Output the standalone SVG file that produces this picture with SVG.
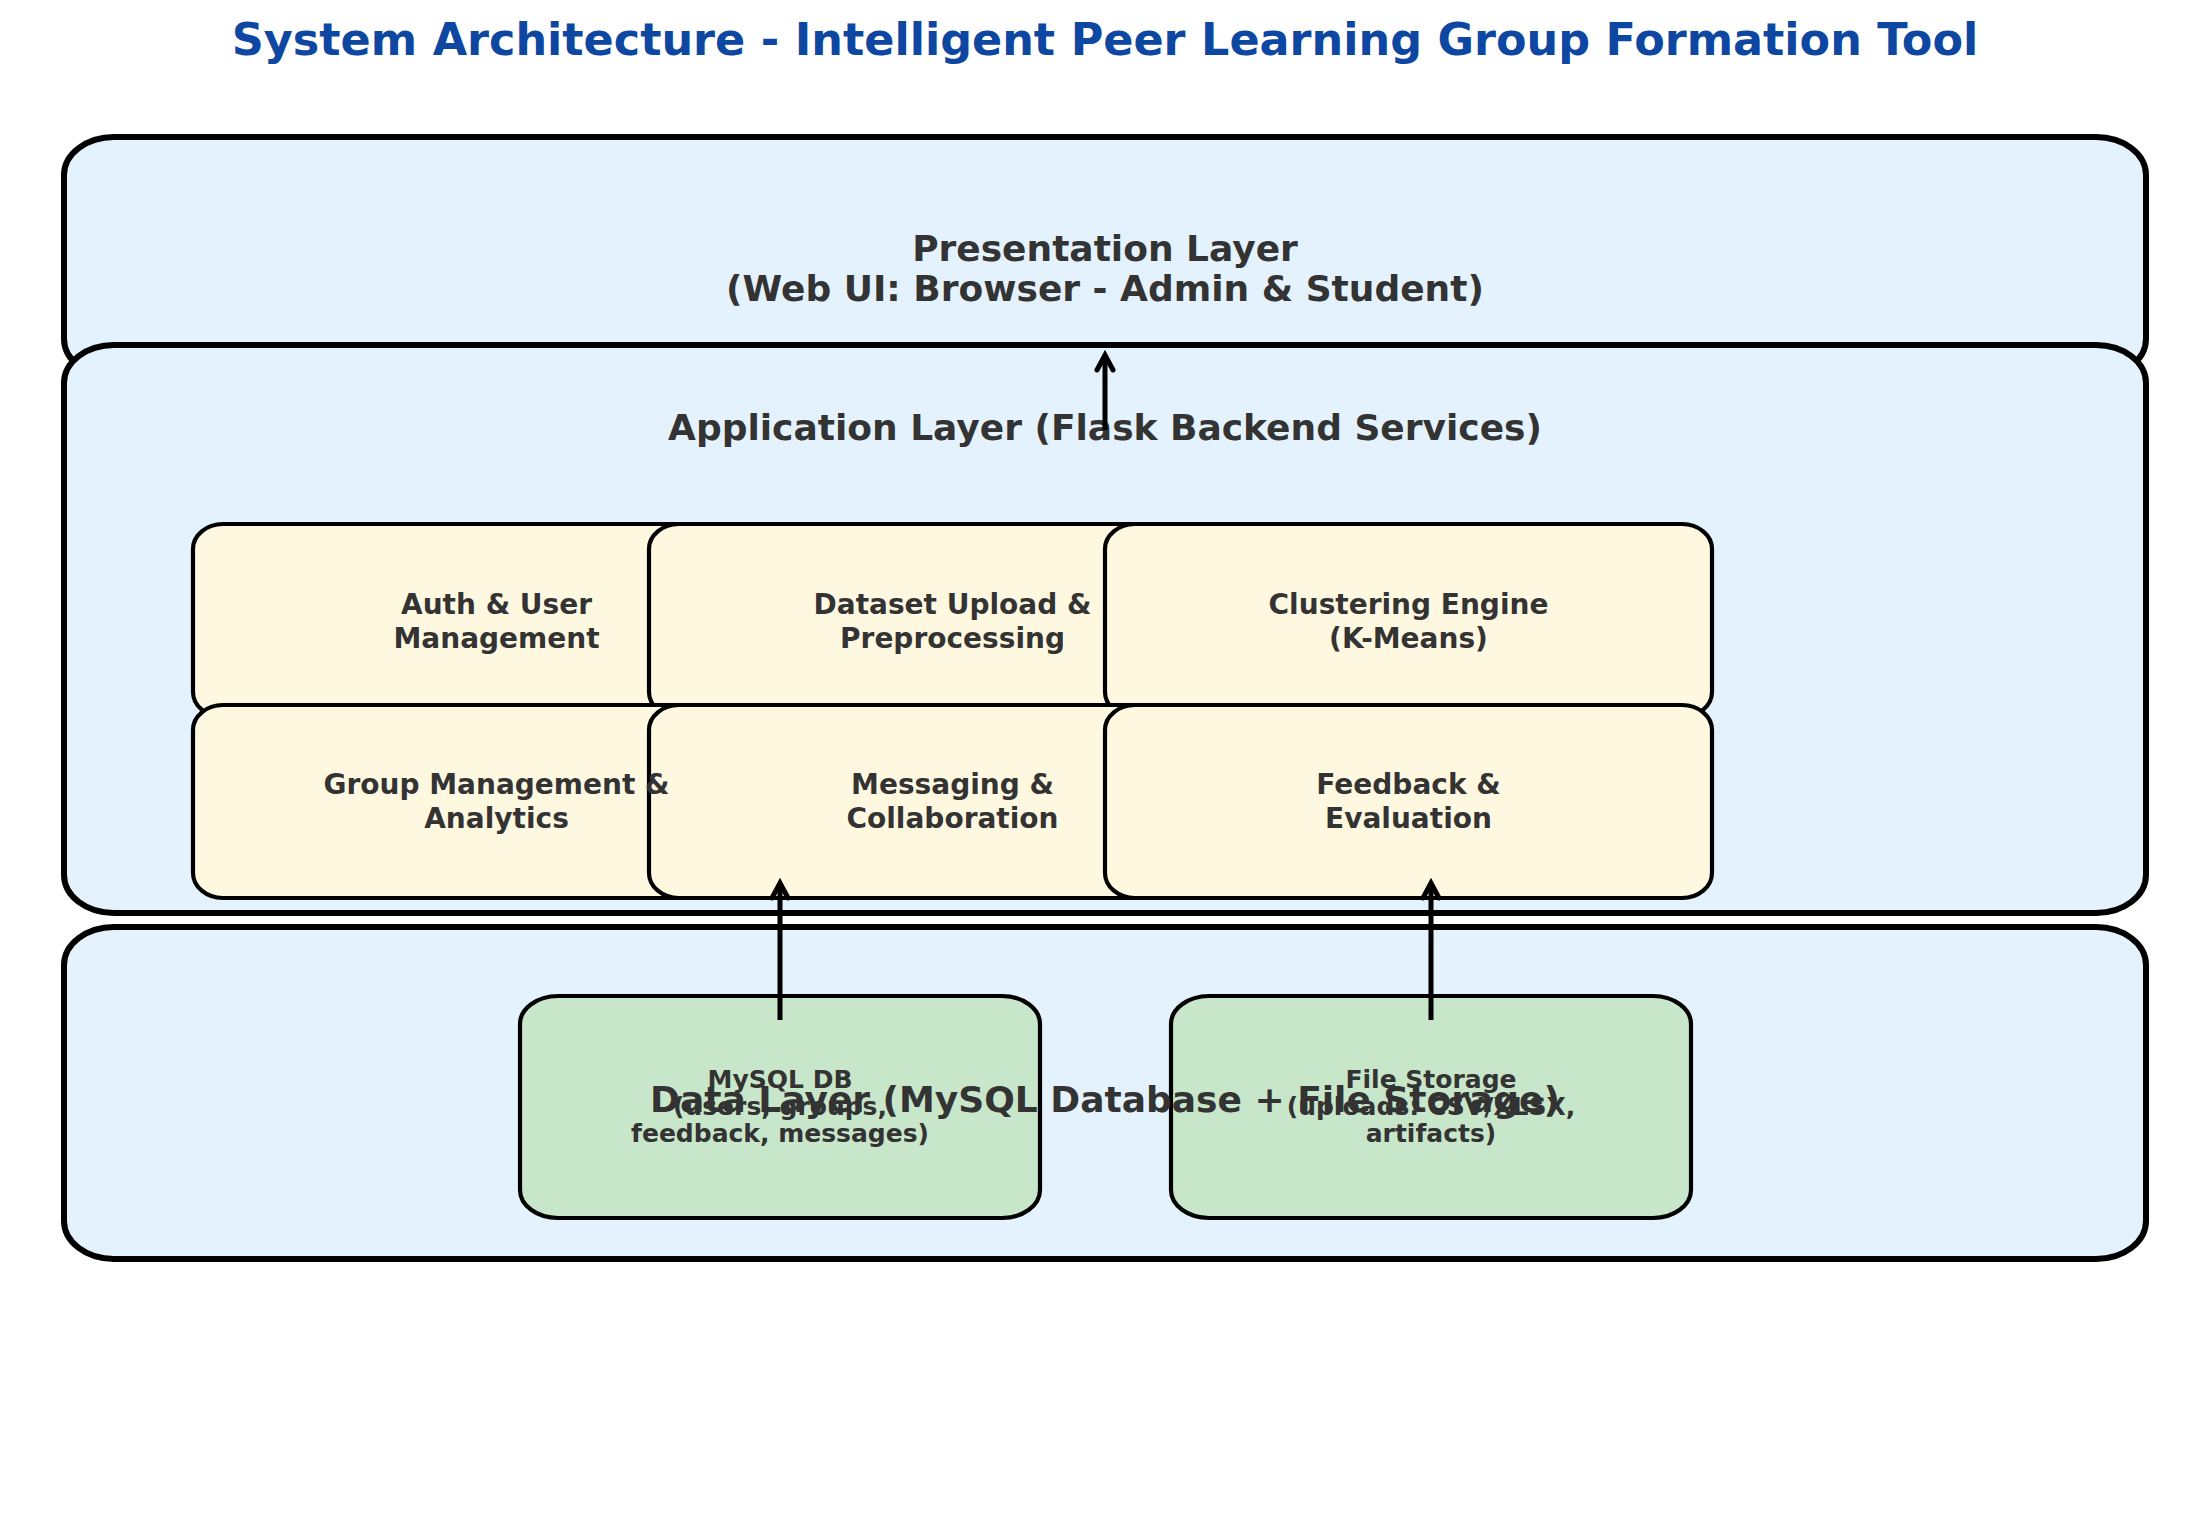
<svg xmlns="http://www.w3.org/2000/svg" width="2210" height="1515" viewBox="0 0 2210 1515">
  <defs>
    <style>
      .layer { fill: #E3F2FD; stroke: #000000; stroke-width: 6; }
      .comp { fill: #FFF8E1; stroke: #000000; stroke-width: 4.2; }
      .store { fill: #C8E6C9; stroke: #000000; stroke-width: 4.2; }
      .t { font-family: "DejaVu Sans", "Liberation Sans", sans-serif; font-weight: bold; fill: #333333; text-anchor: middle; }
      .lt { font-size: 36px; }
      .ct { font-size: 28px; }
      .st { font-size: 25px; }
      .title { font-family: "DejaVu Sans", "Liberation Sans", sans-serif; font-weight: bold; font-size: 44.5px; fill: #0D47A1; text-anchor: middle; }
      .conn { stroke: #000000; stroke-width: 5; fill: none; stroke-linecap: butt; }
      .head { stroke: #000000; stroke-width: 5; fill: none; stroke-linejoin: miter; stroke-linecap: round; }
    </style>
  </defs>
  <rect x="0" y="0" width="2210" height="1515" fill="#FFFFFF"/>
  <text class="title" x="1105" y="55">System Architecture - Intelligent Peer Learning Group Formation Tool</text>

  <g id="presentation-layer">
    <rect class="layer" x="64" y="137" width="2082" height="240" rx="50" ry="38"/>
    <text class="t lt" x="1105" y="261">Presentation Layer</text>
    <text class="t lt" x="1105" y="301">(Web UI: Browser - Admin &amp; Student)</text>
  </g>

  <g id="application-layer">
    <rect class="layer" x="64" y="345" width="2082" height="568" rx="50" ry="38"/>
    <text class="t lt" x="1105" y="440">Application Layer (Flask Backend Services)</text>
  </g>

  <g id="auth">
    <rect class="comp" x="193" y="524" width="607" height="193" rx="30" ry="25"/>
  </g>
  <g id="dataset">
    <rect class="comp" x="649" y="524" width="607" height="193" rx="30" ry="25"/>
  </g>
  <g id="clustering">
    <rect class="comp" x="1105" y="524" width="607" height="193" rx="30" ry="25"/>
  </g>
  <g id="group-mgmt">
    <rect class="comp" x="193" y="705" width="607" height="193" rx="30" ry="25"/>
  </g>
  <g id="messaging">
    <rect class="comp" x="649" y="705" width="607" height="193" rx="30" ry="25"/>
  </g>
  <g id="feedback">
    <rect class="comp" x="1105" y="705" width="607" height="193" rx="30" ry="25"/>
  </g>
  <g id="component-labels">
    <text class="t ct" x="496.5" y="614">Auth &amp; User</text>
    <text class="t ct" x="496.5" y="648">Management</text>
    <text class="t ct" x="952.5" y="614">Dataset Upload &amp;</text>
    <text class="t ct" x="952.5" y="648">Preprocessing</text>
    <text class="t ct" x="1408.5" y="614">Clustering Engine</text>
    <text class="t ct" x="1408.5" y="648">(K-Means)</text>
    <text class="t ct" x="496.5" y="794">Group Management &amp;</text>
    <text class="t ct" x="496.5" y="828">Analytics</text>
    <text class="t ct" x="952.5" y="794">Messaging &amp;</text>
    <text class="t ct" x="952.5" y="828">Collaboration</text>
    <text class="t ct" x="1408.5" y="794">Feedback &amp;</text>
    <text class="t ct" x="1408.5" y="828">Evaluation</text>
  </g>

  <g id="data-layer">
    <rect class="layer" x="64" y="927" width="2082" height="332" rx="50" ry="38"/>
  </g>
  <g id="mysql-db">
    <rect class="store" x="520" y="996" width="520" height="222" rx="38" ry="28"/>
    <text class="t st" x="780" y="1088">MySQL DB</text>
    <text class="t st" x="780" y="1115">(users, groups,</text>
    <text class="t st" x="780" y="1142">feedback, messages)</text>
  </g>
  <g id="file-storage">
    <rect class="store" x="1171" y="996" width="520" height="222" rx="38" ry="28"/>
    <text class="t st" x="1431" y="1088">File Storage</text>
    <text class="t st" x="1431" y="1115">(uploads: CSV/XLSX,</text>
    <text class="t st" x="1431" y="1142">artifacts)</text>
  </g>
  <g id="data-layer-label">
    <text class="t lt" x="1105" y="1112">Data Layer (MySQL Database + File Storage)</text>
  </g>

  <g id="connectors">
    <line class="conn" x1="1105" y1="430" x2="1105" y2="357"/>
    <polyline class="head" points="1097,370 1105,355 1113,370"/>
    <line class="conn" x1="780" y1="1020" x2="780" y2="885"/>
    <polyline class="head" points="772,898 780,883 788,898"/>
    <line class="conn" x1="1431" y1="1020" x2="1431" y2="885"/>
    <polyline class="head" points="1423,898 1431,883 1439,898"/>
  </g>
</svg>
